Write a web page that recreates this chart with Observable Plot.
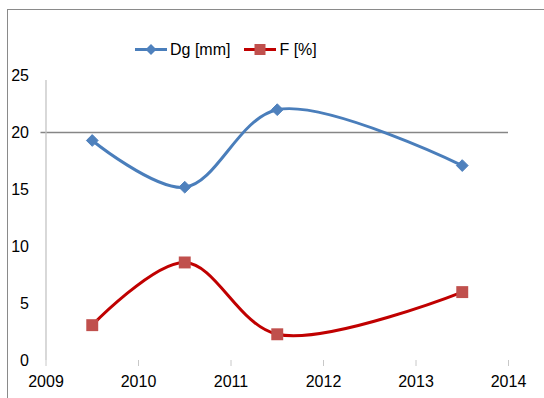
<!DOCTYPE html>
<html>
<head>
<meta charset="utf-8">
<script src="https://cdn.jsdelivr.net/npm/d3@7"></script>
<script src="https://cdn.jsdelivr.net/npm/@observablehq/plot@0.6"></script>
<style>
  html, body { margin: 0; padding: 0; background: #fff; }
  #chart { position: relative; width: 544px; height: 398px; overflow: hidden; font-family: "Liberation Sans", Arial, sans-serif; }
  #frame { position: absolute; left: 7px; top: 9px; right: 0; bottom: 0; border-left: 1.5px solid #8a8a8a; border-top: 1.5px solid #8a8a8a; }
  #chart svg.plot { position: absolute; left: 0; top: 0; }
  #legend { position: absolute; left: 135px; top: 38px; display: flex; align-items: center; font-size: 16px; color: #000; }
  #legend .item { display: flex; align-items: center; margin-right: 14px; }
  #legend svg { margin-right: 3px; }
</style>
</head>
<body>
<div id="chart"><div id="frame"></div></div>
<script>
// Survey years (points sit mid-year) and the two measured series
const years = [2009.5, 2010.5, 2011.5, 2013.5];
const dg = [19.3, 15.2, 22.0, 17.1];   // Dg [mm]
const f = [3.1, 8.6, 2.3, 6.0];        // F [%]
const seriesNames = ["Dg [mm]", "F [%]"];
const xTicks = [2009, 2010, 2011, 2012, 2013, 2014];
const yTicks = [0, 5, 10, 15, 20, 25];
const gridValues = [20];

const blueLine = "#4a7ebb", blueMark = "#4f81bd";
const redLine = "#c00000", redMark = "#c0504d";

const dgData = years.map((x, i) => ({x, y: dg[i]}));
const fData = years.map((x, i) => ({x, y: f[i]}));

const plot = Plot.plot({
  width: 544,
  height: 398,
  marginLeft: 45.5,
  marginRight: 36,
  marginTop: 75,
  marginBottom: 38,
  style: {fontFamily: "Liberation Sans, Arial, sans-serif", fontSize: "16px", background: "transparent", color: "#000"},
  x: {domain: [2009, 2014]},
  y: {domain: [0, 25]},
  marks: [
    Plot.ruleY(gridValues, {x1: 2009, x2: 2014, stroke: "#868686", strokeWidth: 1.3, insetLeft: -5}),
    Plot.ruleX([2009], {y1: 0, y2: 25, stroke: "#c4c4c4", strokeWidth: 1.3, insetBottom: -5}),
    Plot.axisX({ticks: xTicks, tickSize: 6, tickPadding: 9, stroke: "#c8c8c8", fill: "#000", tickFormat: d => String(d), label: null}),
    Plot.axisY({ticks: yTicks, tickSize: 0, tickPadding: 17, fill: "#000", label: null}),
    Plot.line(dgData, {x: "x", y: "y", curve: "catmull-rom", stroke: blueLine, strokeWidth: 3}),
    Plot.line(fData, {x: "x", y: "y", curve: "catmull-rom", stroke: redLine, strokeWidth: 3}),
    Plot.dot(dgData, {x: "x", y: "y", symbol: "diamond2", r: 5.3, fill: blueMark, stroke: blueMark, strokeWidth: 1}),
    Plot.dot(fData, {x: "x", y: "y", symbol: "square2", r: 7.6, fill: redMark, stroke: "none"})
  ]
});
document.getElementById("chart").appendChild(plot);

// Legend: line swatch with its marker, then the series name
const legend = document.createElement("div");
legend.id = "legend";
const swatches = [
  {line: blueLine, mark: blueMark, shape: "diamond"},
  {line: redLine, mark: redMark, shape: "square"}
];
seriesNames.forEach((name, i) => {
  const s = swatches[i];
  const item = document.createElement("div");
  item.className = "item";
  const marker = s.shape === "diamond"
    ? `<path d="M16,6 L21.5,11.5 L16,17 L10.5,11.5 Z" fill="${s.mark}"/>`
    : `<rect x="10.5" y="6" width="11" height="11" fill="${s.mark}"/>`;
  item.innerHTML = `<svg width="32" height="23" viewBox="0 0 32 23"><line x1="0" x2="32" y1="11.5" y2="11.5" stroke="${s.line}" stroke-width="3"/>${marker}</svg><span>${name}</span>`;
  legend.appendChild(item);
});
document.getElementById("chart").appendChild(legend);
</script>
</body>
</html>
